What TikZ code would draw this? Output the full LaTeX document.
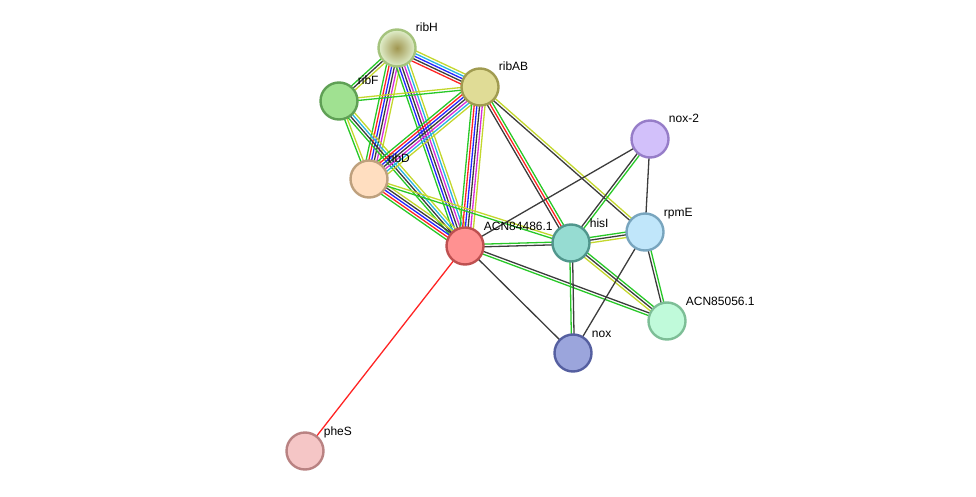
\documentclass[tikz,border=0pt]{standalone}
\usepackage{fontspec}
\setmainfont{Liberation Sans}
\usetikzlibrary{calc,backgrounds}
\definecolor{sgreen}{RGB}{40,200,40}
\definecolor{sred}{RGB}{255,35,35}
\definecolor{sblue}{RGB}{35,35,255}
\definecolor{sblack}{RGB}{60,60,60}
\definecolor{smagenta}{RGB}{215,45,215}
\definecolor{scyan}{RGB}{40,180,225}
\definecolor{syellow}{RGB}{195,215,45}
\tikzset{
	prot/.style n args={3}{circle,inner sep=0pt,minimum size=37pt,line width=2.4pt,fill=#1,draw=#2,label={[lbl]east:#3}},
	lbl/.style={inner sep=0pt,text height=9pt,text depth=0pt,xshift=-1pt,yshift=20.5pt,font=\fontsize{12}{14}\selectfont},
	ev/.style={line width=1.3pt}
}
% parallel lines, one per evidence colour
\newcommand{\strlink}[3]{%
	\foreach \col [count=\n] in {#3} {\xdef\nlk{\n}}
	\foreach \col [count=\n] in {#3} {
		\pgfmathsetmacro{\off}{(\n-(\nlk+1)/2)*2.7}
		\draw [ev,\col] ($(#1)!\off pt!90:(#2)$) -- ($(#2)!\off pt!-90:(#1)$);
	}
}

\begin{document}
\begin{tikzpicture}[x=1pt,y=-1pt]
	\useasboundingbox (0,0) rectangle (976,497);

	\node (ribH) [prot={white}{{rgb,255:red,165;green,195;blue,125}}{ribH},shading=radial,inner color={rgb,255:red,160;green,150;blue,80},outer color={rgb,255:red,225;green,240;blue,205}] at (397,48) {};
	\node (ribAB) [prot={{rgb,255:red,224;green,220;blue,150}}{{rgb,255:red,160;green,155;blue,80}}{ribAB}] at (480,87) {};
	\node (ribF) [prot={{rgb,255:red,160;green,225;blue,145}}{{rgb,255:red,95;green,160;blue,85}}{ribF}] at (339,101) {};
	\node (ribD) [prot={{rgb,255:red,255;green,222;blue,192}}{{rgb,255:red,190;green,160;blue,125}}{ribD}] at (369,179) {};
	\node (acn84486) [prot={{rgb,255:red,255;green,145;blue,145}}{{rgb,255:red,190;green,80;blue,80}}{ACN84486.1}] at (465,246) {};
	\node (hisI) [prot={{rgb,255:red,150;green,220;blue,210}}{{rgb,255:red,80;green,150;blue,140}}{hisI}] at (571,243) {};
	\node (rpmE) [prot={{rgb,255:red,192;green,230;blue,250}}{{rgb,255:red,120;green,165;blue,190}}{rpmE}] at (645,232) {};
	\node (nox2) [prot={{rgb,255:red,210;green,192;blue,250}}{{rgb,255:red,150;green,125;blue,200}}{nox-2}] at (650,139) {};
	\node (acn85056) [prot={{rgb,255:red,192;green,250;blue,218}}{{rgb,255:red,125;green,190;blue,150}}{ACN85056.1}] at (667,321) {};
	\node (nox) [prot={{rgb,255:red,155;green,165;blue,220}}{{rgb,255:red,85;green,95;blue,160}}{nox}] at (573,353) {};
	\node (pheS) [prot={{rgb,255:red,245;green,198;blue,198}}{{rgb,255:red,185;green,130;blue,130}}{pheS}] at (305,451) {};

	\begin{pgfonlayer}{background}
		\strlink{ribH}{ribAB}{sred,sblack,sblue,scyan,syellow}
		\strlink{ribH}{ribF}{sgreen,sblack,syellow}
		\strlink{ribH}{ribD}{sgreen,sred,sblue,sblack,smagenta,syellow}
		\strlink{ribH}{acn84486}{sgreen,sblue,sblack,smagenta,scyan,syellow}
		\strlink{ribF}{ribAB}{sgreen,syellow}
		\strlink{ribF}{ribD}{sgreen,syellow}
		\strlink{ribF}{acn84486}{sgreen,sblack,scyan,syellow}
		\strlink{ribAB}{ribD}{sgreen,sred,sblue,sblack,smagenta,scyan,syellow}
		\strlink{ribAB}{acn84486}{sgreen,sred,sblue,sblack,smagenta,syellow}
		\strlink{ribAB}{hisI}{sblack,sred,sgreen}
		\strlink{ribAB}{rpmE}{sblack,syellow}
		\strlink{ribD}{acn84486}{sgreen,sred,sblue,sblack,syellow}
		\strlink{ribD}{hisI}{sgreen,syellow}
		\strlink{acn84486}{hisI}{sblack,sgreen}
		\strlink{acn84486}{acn85056}{sgreen,sblack}
		\strlink{acn84486}{nox2}{sblack}
		\strlink{acn84486}{nox}{sblack}
		\strlink{acn84486}{pheS}{sred}
		\strlink{hisI}{nox2}{sgreen,sblack}
		\strlink{hisI}{rpmE}{syellow,sblack,sgreen}
		\strlink{hisI}{acn85056}{syellow,sblack,sgreen}
		\strlink{hisI}{nox}{sgreen,sblack}
		\strlink{rpmE}{nox2}{sblack}
		\strlink{rpmE}{acn85056}{sblack,sgreen}
		\strlink{rpmE}{nox}{sblack}
	\end{pgfonlayer}
\end{tikzpicture}
\end{document}
